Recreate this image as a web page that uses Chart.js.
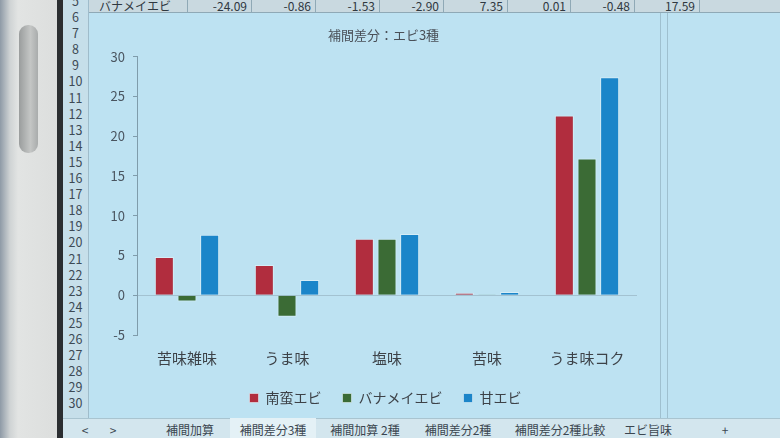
<!DOCTYPE html>
<html lang="ja">
<head>
<meta charset="utf-8">
<title>補間差分：エビ3種</title>
<script src="https://cdn.jsdelivr.net/npm/chart.js@4/dist/chart.umd.min.js"></script>
<style>
    html, body { margin: 0; padding: 0; }
    body {
        width: 780px; height: 438px; overflow: hidden; position: relative;
        background: #bde2f2;
        font-family: "Noto Sans CJK JP", "Noto Sans", sans-serif;
    }
    .bezel { position: absolute; left: 0; top: 0; width: 58px; height: 438px;
        background: linear-gradient(90deg, #8e9aa6 0px, #cfd3d4 10px, #e2e4e3 18px, #dcdedd 58px); }
    .pill { position: absolute; left: 19px; top: 25px; width: 19px; height: 128px;
        border-radius: 9px; background: linear-gradient(90deg, #9a9d9d, #c4c6c5 60%, #a9acac); }
    .frame { position: absolute; left: 57px; top: 0; width: 6px; height: 438px; background: #2b2e31; }
    .rows { position: absolute; left: 63px; top: 0; width: 25px; height: 438px;
        background: #c6dfea; border-right: 1px solid #9fbccb; }
    .rows div { position: absolute; left: 0; width: 25px; text-align: center;
        font-size: 12.5px; color: #3d4a55; line-height: 14px; }
    .toprow { position: absolute; left: 89px; top: 0; width: 691px; height: 12px;
        background: #c9d9e0; border-bottom: 1px solid #8fa9b6; }
    .toprow span { position: absolute; top: -3px; font-size: 12px; color: #2f3840; }
    .toprow i { position: absolute; top: 0; width: 1px; height: 12px; background: #8fa9b6; }
    #chart-box { position: absolute; left: 90px; top: 14px; width: 575px; height: 420px; }
    .colline { position: absolute; top: 13px; width: 1px; height: 405px; background: #9fc0cf; }
    .tabs { position: absolute; left: 63px; top: 418px; width: 717px; height: 20px;
        background: #d3e6ee; border-top: 1px solid #a9c4d0; z-index: 5; }
    .tabs span { position: absolute; top: 2px; font-size: 12px; color: #3b4650; transform: translateX(-50%); }
    .tabs .active { position: absolute; left: 167px; top: -1px; width: 86px; height: 21px; background: #e4f1f6; }
</style>
</head>
<body>
<div class="bezel"></div>
<div class="pill"></div>
<div class="frame"></div>
<div class="rows" id="rows"></div>
<div class="toprow" id="toprow"></div>
<div class="colline" style="left:660px"></div>
<div class="colline" style="left:667px"></div>
<div id="chart-box"><canvas id="chart" width="575" height="420"></canvas></div>
<div class="tabs" id="tabs"><div class="active"></div></div>
<script>
// Chart data
const categories = ['苦味雑味', 'うま味', '塩味', '苦味', 'うま味コク'];
const seriesNames = ['南蛮エビ', 'バナメイエビ', '甘エビ'];
const nanbanEbi = [4.8, 3.8, 7.1, 0.3, 22.6];
const vannameiEbi = [-0.8, -2.7, 7.1, 0.1, 17.2];
const amaEbi = [7.6, 1.9, 7.7, 0.4, 27.4];
const yMin = -5;
const yMax = 30;
const yStep = 5;

// Spreadsheet surroundings (row 5 of the sheet, sheet tabs)
const rowFiveValues = ['-24.09', '-0.86', '-1.53', '-2.90', '7.35', '0.01', '-0.48', '17.59'];
const sheetTabs = ['<', '>', '補間加算', '補間差分3種', '補間加算 2種', '補間差分2種', '補間差分2種比較', 'エビ旨味', '+'];

const COLORS = ['#b12d3e', '#3b6b35', '#1b85c9'];
const FONT = '"Noto Sans CJK JP", "Noto Sans", sans-serif';

function buildSheet() {
    const rows = document.getElementById('rows');
    for (let r = 5; r <= 30; r += 1) {
        const d = document.createElement('div');
        d.textContent = r;
        d.style.top = (17 + (r - 6) * 16.1 - 7) + 'px';
        rows.appendChild(d);
    }

    const top = document.getElementById('toprow');
    const label = document.createElement('span');
    label.textContent = 'バナメイエビ';
    label.style.left = '10px';
    top.appendChild(label);
    const borders = [98, 162, 226, 290, 354, 418, 481, 545, 610];
    borders.forEach(x => {
        const line = document.createElement('i');
        line.style.left = x + 'px';
        top.appendChild(line);
    });
    rowFiveValues.forEach((v, i) => {
        const s = document.createElement('span');
        s.textContent = v;
        s.style.right = (691 - borders[i + 1] + 4) + 'px';
        top.appendChild(s);
    });

    const tabs = document.getElementById('tabs');
    const tabX = [22, 50, 127, 210, 302, 395, 497, 585, 662];
    sheetTabs.forEach((t, i) => {
        const s = document.createElement('span');
        s.textContent = t;
        s.style.left = tabX[i] + 'px';
        tabs.appendChild(s);
    });
}

// Excel centres title and legend on the whole chart box, not the area
// left after the right padding; nudge them to match
const boxNudge = {
    id: 'boxNudge',
    afterLayout(chart) {
        chart.titleBlock.left += 20;
        chart.titleBlock.right += 20;
        chart.legend.left += 22;
        chart.legend.right += 22;
        chart.legend.top -= 11;
        chart.legend.bottom -= 11;
    }
};

function drawChart() {
    const ctx = document.getElementById('chart').getContext('2d');
    const values = [nanbanEbi, vannameiEbi, amaEbi];

    new Chart(ctx, {
        type: 'bar',
        data: {
            labels: categories,
            datasets: seriesNames.map((name, i) => ({
                label: name,
                data: values[i],
                backgroundColor: COLORS[i],
                borderColor: 'rgba(235, 245, 250, 0.55)',
                borderWidth: 1,
                categoryPercentage: 0.68,
                barPercentage: 0.84
            }))
        },
        plugins: [boxNudge],
        options: {
            responsive: false,
            animation: false,
            devicePixelRatio: 1,
            layout: { padding: { left: 0, right: 28, top: 0, bottom: 8 } },
            plugins: {
                title: {
                    display: true,
                    text: '補間差分：エビ3種',
                    color: '#4a5058',
                    font: { family: FONT, size: 13, weight: 'normal' },
                    padding: { top: 13, bottom: 14 }
                },
                legend: {
                    position: 'bottom',
                    labels: {
                        boxWidth: 9,
                        boxHeight: 9,
                        padding: 21,
                        color: '#3d4248',
                        font: { family: FONT, size: 14 }
                    }
                },
                tooltip: { enabled: false }
            },
            scales: {
                x: {
                    grid: { display: false, drawTicks: false },
                    border: { display: false },
                    ticks: {
                        color: '#3d4248',
                        font: { family: FONT, size: 15 },
                        padding: 14
                    }
                },
                y: {
                    min: yMin,
                    max: yMax,
                    ticks: {
                        stepSize: yStep,
                        color: '#4a5560',
                        font: { family: FONT, size: 13 },
                        padding: 8
                    },
                    grid: {
                        color: c => (c.tick && c.tick.value === 0 ? '#a3c2d1' : 'transparent'),
                        tickColor: '#7f9cab',
                        tickLength: 4
                    },
                    border: { display: true, color: '#7f9cab' },
                    afterFit: scale => { scale.width = 47; }
                }
            }
        }
    });
}

buildSheet();
drawChart();
</script>
</body>
</html>
